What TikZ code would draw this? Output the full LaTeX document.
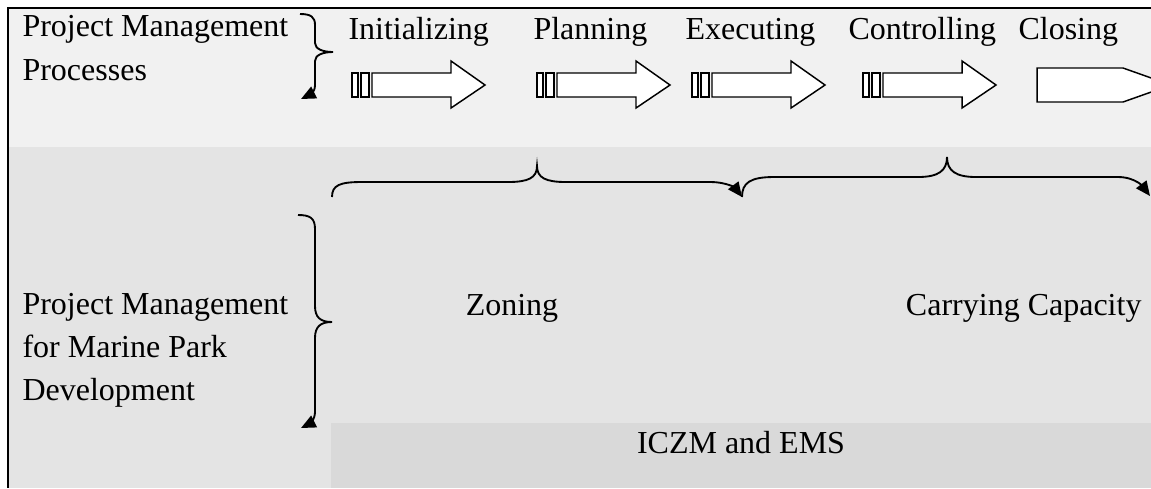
\documentclass[tikz,border=0pt]{standalone}
\usepackage{fontspec}
\setmainfont{Liberation Serif}
\usetikzlibrary{
    arrows.meta,
    positioning
}
\definecolor{toppanel}{HTML}{F1F1F1}
\definecolor{midpanel}{HTML}{E4E4E4}
\definecolor{basestrip}{HTML}{D9D9D9}
\tikzset{
    plain/.style={
        inner sep=0pt,
        font=\fontsize{12}{16}\selectfont
    },
    brace/.style={
        line width=0.7pt,
        -{Triangle[length=5.5pt, width=4.8pt]}
    },
    stage/.style={
        draw,
        fill=white,
        line width=0.55pt
    },
    stripedarrow/.pic={
        \draw [stage] (0,73) rectangle (6,97);
        \draw [stage] (9,73) rectangle (17,97);
        \draw [stage] (20,73) -- (99,73) -- (99,61) -- (133,85)
            -- (99,108) -- (99,97) -- (20,97) -- cycle;
    }
}

\begin{document}
\begin{tikzpicture}[x=0.375pt, y=-0.375pt]
        \useasboundingbox (0,0) rectangle (1151,488);
        \clip (0,0) rectangle (1151,488);

        % Panels
        \fill [toppanel] (8,8) rectangle (1151,147);
        \fill [midpanel] (8,147) rectangle (1151,488);
        \fill [basestrip] (331,423) rectangle (1151,488);
        \draw [line width=0.8pt] (1151,8) -- (8,8) -- (8,488);

        % Project Management Processes
        \node [plain, anchor=north west, align=left, font=\fontsize{12}{16.5}\selectfont] (processes) at (22,15) {
            Project Management\\Processes
        };

        % Process stages
        \node [plain, anchor=base west] (initializing) at (348,39) {Initializing};
        \node [plain, anchor=base west] (planning) at (533,39) {Planning};
        \node [plain, anchor=base west] (executing) at (685,39) {Executing};
        \node [plain, anchor=base west] (controlling) at (848,39) {Controlling};
        \node [plain, anchor=base west] (closing) at (1018,39) {Closing};

        \pic at (352,0) {stripedarrow};
        \pic at (537,0) {stripedarrow};
        \pic at (692,0) {stripedarrow};
        \pic at (863,0) {stripedarrow};
        \draw [stage] (1037,68) -- (1123,68) -- (1171,85) -- (1123,102) -- (1037,102) -- cycle;

        % Brace of the processes
        \coordinate (procTop) at (300,14);
        \coordinate (procTip) at (333,52);
        \coordinate (procEnd) at (301,99);
        \draw [brace] (procTop) .. controls +(11,0) and +(0,-8) .. (315,25) -- (315,43)
            .. controls +(0,6) and +(-10,0) .. (procTip)
            .. controls +(-10,0) and +(0,-6) .. (315,61) -- (315,85)
            .. controls +(0,8) and +(8,-4) .. (procEnd);

        % Marine park development
        \node [plain, anchor=north west, align=left] (marinepark) at (22,293) {
            Project Management\\for Marine Park\\Development
        };
        \node [plain, anchor=base] (zoning) at (512,315) {Zoning};
        \node [plain, anchor=base east] (capacity) at (1142,315) {Carrying Capacity};
        \node [plain, anchor=base] (iczm) at (741,453) {ICZM and EMS};

        % Brace of the development
        \coordinate (devTop) at (298,215);
        \coordinate (devTip) at (332,322);
        \coordinate (devEnd) at (301,428);
        \draw [brace] (devTop) .. controls +(12,0) and +(0,-11) .. (315,229) -- (315,306)
            .. controls +(0,11) and +(-12,0) .. (devTip)
            .. controls +(-12,0) and +(0,-11) .. (315,338) -- (315,412)
            .. controls +(0,8) and +(8,-4) .. (devEnd);

        % Brace over zoning
        \coordinate (zoneStart) at (332,197);
        \coordinate (zoneTip) at (537,166);
        \coordinate (zoneEnd) at (742,197);
        \draw [brace] (zoneStart) .. controls +(0,-12) and +(-22,0) .. (362,182) -- (508,182)
            .. controls +(20,0) and +(0,12) .. (zoneTip)
            .. controls +(0,12) and +(-20,0) .. (566,182) -- (710,182)
            .. controls +(18,0) and +(-6,-8) .. (zoneEnd);

        % Brace over carrying capacity
        \coordinate (capStart) at (742,197);
        \coordinate (capTip) at (947,157);
        \coordinate (capEnd) at (1150,196);
        \draw [brace] (capStart) .. controls +(0,-14) and +(-24,0) .. (774,177) -- (918,177)
            .. controls +(20,0) and +(0,14) .. (capTip)
            .. controls +(0,14) and +(-20,0) .. (976,177) -- (1118,177)
            .. controls +(18,0) and +(-6,-8) .. (capEnd);
    \end{tikzpicture}
\end{document}
